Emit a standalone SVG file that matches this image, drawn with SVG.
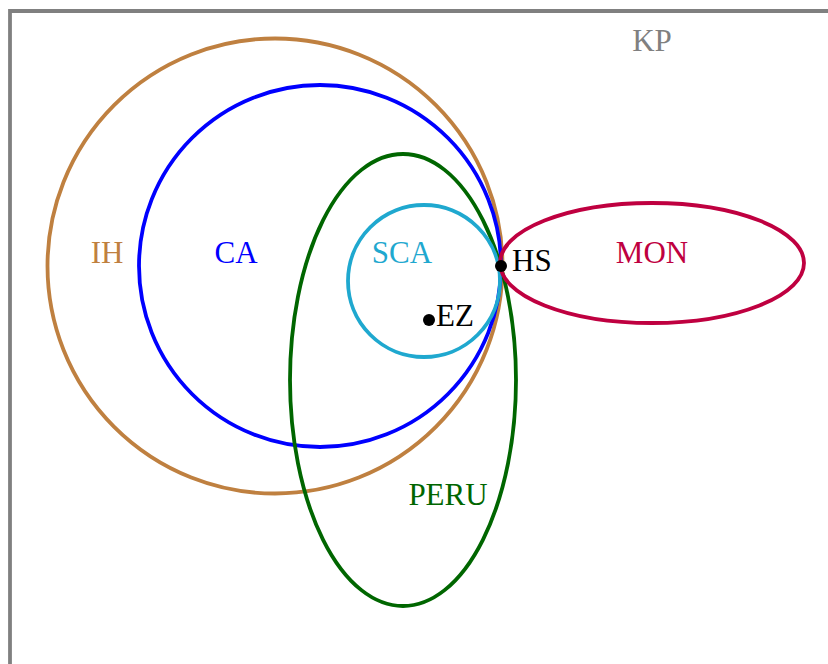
<svg xmlns="http://www.w3.org/2000/svg" width="828" height="664" viewBox="0 0 828 664">
<style>
.s{fill:none;stroke-width:3.8}
text{font-family:"Liberation Serif","DejaVu Serif",serif;font-size:31px;text-anchor:middle}
</style>
<rect width="828" height="664" fill="#fff"/>
<g id="KP"><path class="s" d="M10,670 V11 H840" stroke="#808080"/><text x="652" y="51" fill="#808080">KP</text></g>
<g id="IH"><circle class="s" cx="275" cy="266" r="227.5" stroke="#BF8040"/><text x="107" y="263" fill="#BF8040">IH</text></g>
<g id="CA"><circle class="s" cx="320" cy="266" r="181" stroke="#0000FF"/><text x="236" y="263" fill="#0000FF">CA</text></g>
<g id="PERU"><ellipse class="s" cx="403" cy="380" rx="113" ry="226" stroke="#006600"/><text x="448" y="505" fill="#006600">PERU</text></g>
<g id="SCA"><circle class="s" cx="424" cy="281" r="76" stroke="#1FA8CF"/><text x="402" y="263" fill="#1FA8CF">SCA</text></g>
<g id="MON"><ellipse class="s" cx="652" cy="263" rx="152" ry="60" stroke="#BF0040"/><text x="652" y="263" fill="#BF0040">MON</text></g>
<g id="HS"><circle cx="501" cy="266" r="6" fill="#000"/><text x="512" y="271" style="text-anchor:start">HS</text></g>
<g id="EZ"><circle cx="429" cy="320" r="6" fill="#000"/><text x="436" y="326" style="text-anchor:start">EZ</text></g>
</svg>
